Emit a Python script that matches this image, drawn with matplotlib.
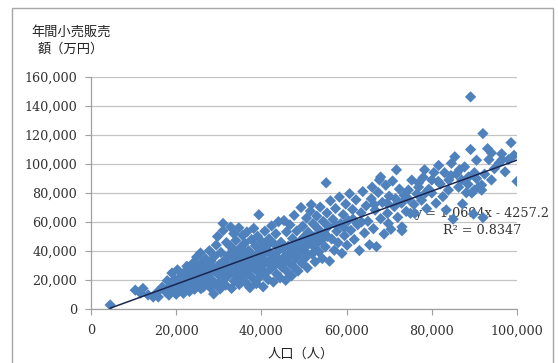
import numpy as np
import matplotlib
matplotlib.use("Agg")
import matplotlib.pyplot as plt
from matplotlib.patches import Rectangle

# population (persons) and annual retail sales (10,000 yen)
population = [
    4500, 10400, 11600, 13400, 15600, 15800, 14600, 16700, 12200,
    17500, 17900, 18300, 18600, 19000, 19200, 19600, 20000, 20300, 20500,
    20800, 21100, 21400, 21700, 22000, 22200, 22500, 22800, 23100, 23300,
    23600, 23900, 24100, 24300, 24600, 24800, 25000, 25200, 25400, 25700,
    25800, 26000, 26200, 26400, 26600, 26900, 27100, 27300, 27500, 27800,
    28000, 28200, 28400, 28600, 28800, 29000, 29200, 29400, 29700, 29900,
    30100, 30300, 30500, 30700, 31000, 31000, 31200, 31400, 31600, 31800,
    32000, 32200, 32500, 32800, 32800, 33000, 33100, 33300, 33500, 33600,
    33800, 34000, 34200, 34400, 34700, 34800, 35000, 35100, 35300, 35500,
    35600, 35800, 35900,
    36100, 36300, 36400, 36600, 36800, 37000, 37100, 37300, 37500, 37700,
    37900, 38000, 38200, 38400, 38600, 38800, 39000, 39100, 39400, 39500,
    39600, 39800, 40000, 40200, 40400, 40600, 40800, 41000, 41200, 41400,
    41600, 41800, 42000, 42200, 42400, 42600, 42800, 43000, 43200, 43400,
    43600, 43800, 44000, 44200, 44400, 44600, 44800, 45000, 45300, 45500,
    45700, 45900, 46100,
    46300, 46500, 46700, 46900, 47100, 47300, 47500, 47700, 47900, 48100,
    48300, 48600, 48800, 49000, 49300, 49500, 49700, 49900, 50100, 50300,
    50600, 50800, 51000, 51200, 51500, 51700, 51900, 52100, 52400, 52600,
    52800, 53000, 53300, 53500, 53800, 54000, 54300, 54500, 54800, 55200,
    55000, 55400, 55700, 56000, 56200, 56500, 56800, 57100, 57400, 57700,
    58000, 58300, 58600, 58900, 59200, 59500, 59800, 60100, 60400, 60700,
    61000, 61400, 61800, 62200, 62600, 63000, 63400, 63800, 64200, 64600,
    65000,
    65400, 65800, 66000, 66300, 66700, 67000, 67400, 67700, 68000, 68000,
    68400, 68800, 69200, 69600, 69800, 70000, 70400, 70800, 71200, 71700,
    72000, 72400, 72900, 73000, 73000, 73500, 74000, 74500, 75000, 75300,
    75800, 76000, 76500, 76900, 76900, 77600, 78000, 78300, 78800, 79300,
    80000, 80000, 80500, 81000, 81600, 82000, 82600, 83000, 83400, 83900,
    84000, 84600, 85000, 85400, 85800, 86300, 86500, 87000, 87200, 87700,
    88100, 88600, 89100, 89100, 89400, 89800, 90000, 90000, 90500, 91000,
    91700, 91700, 92000, 92000, 92400, 93100, 93400, 94000, 94000, 94700,
    95800, 96400, 96500, 97200, 98000, 98600, 99300, 100000,
    21800, 23000, 24000, 26500, 27600, 28500, 29500, 30800, 31500, 32600,
    33400, 34500, 35400, 36500, 37600, 38500, 39200, 40500, 41500, 42500,
    43500, 44500, 45500, 46500, 47500, 48500, 49500, 50500, 51500, 52500,
    53500, 55500, 57500, 59500, 61500, 63500, 66500, 69500, 71500, 74500,
    78500, 81500, 84500, 88500, 90500,
]
sales = [
    2800, 13000, 11000, 9700, 11700, 8300, 8300, 15000, 14200,
    12000, 19500, 9600, 16000, 24800, 13100, 20500, 10200, 27000, 16800,
    12500, 22400, 18900, 10800, 25600, 14600, 29500, 19800, 12100, 23700,
    16400, 31500, 26900, 13600, 20600, 35800, 17800, 28600, 24000, 38600,
    14000, 31800, 21500, 15200, 26000, 34600, 18700, 29300, 23400, 40200,
    14800, 32900, 20100, 26700, 10400, 36400, 17300, 44100, 50000, 23800,
    30600, 13800, 39000, 19900, 54000, 59000, 27300, 33800, 16500, 45800,
    22500, 36700, 29600, 56500, 43000, 14200, 25400, 40800, 52000, 19300,
    32200, 47300, 23900, 37500, 56000, 16900, 29100, 42400, 34300, 21000,
    50800, 26400, 38600,
    45500, 18200, 31700, 53100, 24600, 40300, 35800, 14700, 28200, 47900,
    21400, 37200, 55600, 31000, 43600, 17500, 26300, 50200, 65000, 34600,
    22000, 40700, 46800, 29800, 15300, 37900, 53700, 24800, 43200, 32500,
    20300, 48400, 38800, 27700, 57300, 35100, 18600, 44900, 30400, 51900,
    24100, 39600, 60200, 33700, 21500, 46000, 28900, 41800, 61000, 36300,
    19800, 53200, 25700,
    43400, 32200, 58000, 38500, 22900, 48600, 29400, 64600, 41300, 35000,
    53800, 26200, 45700, 38900, 70000, 31600, 57100, 49400, 42100, 35200,
    62700, 28400, 53000, 45300, 67500, 72000, 38000, 58900, 49900, 32600,
    44600, 64100, 55300, 39400, 70300, 47200, 34800, 60400, 52100, 87000,
    42800, 66200, 56900, 33000, 74600, 48300, 61800, 40500, 69300, 53600,
    45700, 77200, 58800, 38400, 65100, 50600, 72400, 44000, 61000, 79500,
    54300, 68600, 47900, 75300, 58100, 40300, 66400, 81000, 52400, 71200,
    60500,
    44300, 76000, 84000, 55400, 68200, 43000, 80400, 89000, 62300, 91000,
    73500, 51700, 85400, 66000, 59000, 77800, 55000, 88300, 70600, 96000,
    63200, 82700, 73000, 54000, 56600, 78400, 67300, 82000, 66000, 88900,
    72100, 66000, 79400, 84000, 87000, 75000, 90800, 96000, 69200, 82600,
    89000, 80000, 94100, 73000, 99000, 86200, 77500, 94000, 68300, 82000,
    89000, 100500, 62000, 105000, 93200, 84000, 96000, 89000, 72500, 98000,
    80200, 91000, 146300, 110000, 80000, 65500, 94000, 82000, 102600, 84000,
    82000, 85500, 63000, 121000, 93000, 110600, 103000, 89000, 107600, 96800,
    100700, 107000, 103000, 94600, 103000, 114700, 106000, 88000,
    15500, 21000, 17000, 23500, 19500, 29000, 25000, 23000, 30500, 26500,
    35000, 28000, 24500, 36500, 33000, 27500, 38000, 33500, 40000, 31500,
    36000, 42500, 32000, 38500, 44000, 40500, 46000, 39000, 48000, 42500,
    50000, 50000, 58000, 56000, 62000, 60000, 72000, 73000, 76000, 76000,
    80000, 88000, 92000, 86000, 90000,
]

# linear trendline shown on the chart
slope = 1.0694
intercept = -4257.2
r_squared = 0.8347

x_ticks = [0, 20000, 40000, 60000, 80000, 100000]
y_ticks = [0, 20000, 40000, 60000, 80000, 100000, 120000, 140000, 160000]

W, H = 558, 363
fig = plt.figure(figsize=(W / 100, H / 100), dpi=100)
fig.patch.set_facecolor("white")

# chart frame
fig.patches.append(Rectangle((12 / W, -0.05), 541 / W, 1.05 - 8 / H,
                             transform=fig.transFigure, fill=False,
                             edgecolor="#a6a6a6", lw=1.0))

ax = fig.add_axes([91 / W, (H - 309) / H, 426 / W, 232 / H])

num_font = dict(family="DejaVu Serif", size=9.2, color="#333333")
jp_font = ["Noto Sans CJK JP", "DejaVu Sans"]

ax.scatter(population, sales, marker="D", s=33, color="#4f81bd",
           edgecolors="none", zorder=3)

xs = np.array([min(population), max(population)])
ax.plot(xs, slope * xs + intercept, color="#1a2650", lw=1.1, zorder=4)

ax.text(91800, 60000,
        f"y = {slope}x - {abs(intercept)}\nR² = {r_squared}",
        ha="center", va="center", multialignment="center",
        linespacing=1.3, zorder=2, **num_font)

ax.set_xlim(0, 100000)
ax.set_ylim(0, 160000)
ax.set_xticks(x_ticks)
ax.set_yticks(y_ticks)
ax.set_xticklabels([f"{v:,}" for v in x_ticks], fontdict=num_font)
ax.set_yticklabels([f"{v:,}" for v in y_ticks], fontdict=num_font)
ax.tick_params(length=4, width=0.8, color="#a0a0a0")
ax.tick_params(axis="x", pad=7)
ax.tick_params(axis="y", pad=6)

ax.grid(axis="y", color="#c4c4c4", lw=0.9, zorder=0)
ax.set_axisbelow(True)
for side in ("top", "right"):
    ax.spines[side].set_visible(False)
for side in ("left", "bottom"):
    ax.spines[side].set_color("#a0a0a0")
    ax.spines[side].set_linewidth(0.9)

fig.text(71 / W, 1 - 40.5 / H, "年間小売販売\n額（万円）", ha="center",
         va="center", multialignment="center", linespacing=1.35,
         family=jp_font, fontsize=9.5, color="#222222")
fig.text(301 / W, 1 - 354 / H, "人口（人）", ha="center", va="center",
         family=jp_font, fontsize=9.5, color="#222222")

fig.savefig("out.png", dpi=100)
